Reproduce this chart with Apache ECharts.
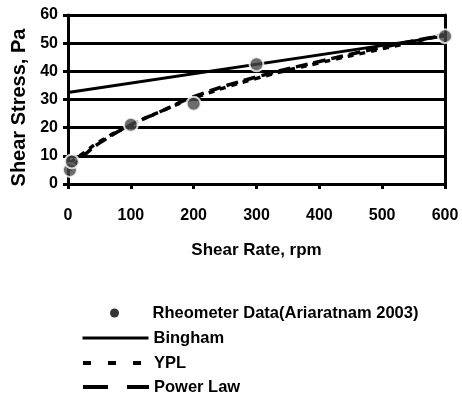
<!DOCTYPE html>
<html>
<head>
<meta charset="utf-8">
<script src="https://cdn.jsdelivr.net/npm/echarts@6/dist/echarts.min.js"></script>
<style>
  html, body { margin: 0; padding: 0; background: #fff; }
  #chart { width: 462px; height: 395px; }
</style>
</head>
<body>
<div id="chart"></div>
<script>
// values
var rheometerData = [[3, 5], [6, 8], [100, 21], [200, 28.5], [300, 42.5], [600, 52.5]];
var binghamLine = [[0, 32.5], [600, 52.5]];
var yplLine = [[3, 7.5], [25, 11], [50, 15], [100, 21], [150, 26], [200, 30.5], [300, 37.5], [400, 43], [500, 48], [600, 53]];
var powerLawLine = [[3, 5], [25, 10], [50, 14.5], [100, 21], [150, 26], [200, 31], [300, 38], [400, 43.5], [500, 48.5], [600, 53]];

var seriesNames = ['Rheometer Data(Ariaratnam 2003)', 'Bingham', 'YPL', 'Power Law'];
var legendTops = [299, 324, 349, 373];

var myChart = echarts.init(document.getElementById('chart'));

var fontFam = 'Liberation Sans, Arial, sans-serif';
var hideDot = { opacity: 0 };

// one legend per row so each row sits where the picture has it
var legendItems = [
    { name: seriesNames[0], icon: 'circle', itemStyle: { color: '#000', borderWidth: 0 } },
    { name: seriesNames[1], itemStyle: hideDot, lineStyle: { width: 3, type: 'solid' } },
    { name: seriesNames[2], itemStyle: hideDot, lineStyle: { width: 4, type: [8, 17] } },
    { name: seriesNames[3], itemStyle: hideDot, lineStyle: { width: 4, type: [25, 19] } }
];
var legends = legendItems.map(function (item, i) {
    return {
        left: i === 0 ? 105 : 76,
        top: legendTops[i],
        itemWidth: 66,
        itemHeight: i === 0 ? 9 : 8,
        textStyle: {
            fontFamily: fontFam,
            fontSize: 16.5,
            fontWeight: 'bold',
            lineHeight: 18,
            color: '#000'
        },
        data: [item]
    };
});

var option = {
    animation: false,
    backgroundColor: '#fff',
    grid: {
        left: 68,
        right: 17,
        top: 15,
        bottom: 211
    },
    legend: legends,
    xAxis: {
        type: 'value',
        min: 0,
        max: 600,
        interval: 100,
        name: 'Shear Rate, rpm',
        nameLocation: 'middle',
        nameGap: 58,
        nameTextStyle: {
            fontFamily: fontFam,
            fontSize: 17,
            fontWeight: 'bold',
            color: '#000'
        },
        axisLine: { lineStyle: { color: '#000', width: 3 } },
        axisTick: { show: true, length: 5, lineStyle: { color: '#000', width: 3 } },
        axisLabel: {
            margin: 24,
            fontFamily: fontFam,
            fontSize: 16,
            fontWeight: 'bold',
            color: '#000'
        },
        splitLine: { show: false }
    },
    yAxis: [{
        type: 'value',
        min: 0,
        max: 60,
        interval: 10,
        name: 'Shear Stress, Pa',
        nameLocation: 'middle',
        nameGap: 39,
        nameTextStyle: {
            fontFamily: fontFam,
            fontSize: 20,
            fontWeight: 'bold',
            color: '#000',
            padding: [0, 16, 0, 0]
        },
        axisLine: { show: true, lineStyle: { color: '#000', width: 3 } },
        axisTick: { show: true, length: 5, lineStyle: { color: '#000', width: 3 } },
        axisLabel: {
            margin: 10,
            fontFamily: fontFam,
            fontSize: 16,
            fontWeight: 'bold',
            color: '#000'
        },
        splitLine: { show: true, lineStyle: { color: '#000', width: 3 } }
    }, {
        type: 'value',
        position: 'right',
        min: 0,
        max: 60,
        interval: 10,
        axisLine: { show: true, lineStyle: { color: '#000', width: 3 } },
        axisTick: { show: false },
        axisLabel: { show: false },
        splitLine: { show: false }
    }],
    series: [
        {
            name: seriesNames[0],
            type: 'scatter',
            symbol: 'circle',
            symbolSize: 14,
            z: 5,
            itemStyle: {
                color: '#474747',
                borderColor: '#fff',
                borderWidth: 2
            },
            data: rheometerData
        },
        {
            name: seriesNames[1],
            type: 'line',
            symbol: 'none',
            lineStyle: { color: '#000', width: 3, type: 'solid' },
            itemStyle: { color: '#000' },
            data: binghamLine
        },
        {
            name: seriesNames[2],
            type: 'line',
            smooth: true,
            symbol: 'none',
            lineStyle: { color: '#000', width: 3.5, type: [6, 6] },
            itemStyle: { color: '#000' },
            data: yplLine
        },
        {
            name: seriesNames[3],
            type: 'line',
            smooth: true,
            symbol: 'none',
            lineStyle: { color: '#000', width: 3.5, type: [12, 6] },
            itemStyle: { color: '#000' },
            data: powerLawLine
        }
    ]
};

myChart.setOption(option);
</script>
</body>
</html>
